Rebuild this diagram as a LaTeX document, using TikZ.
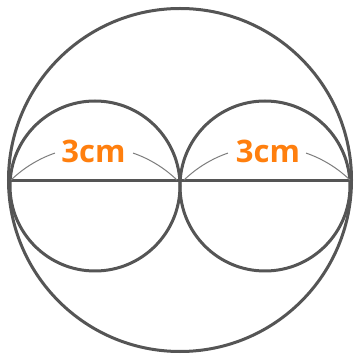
\documentclass[tikz,border=0pt]{standalone}
\usepackage{fontspec}
\setmainfont{Open Sans}
\usetikzlibrary{calc}
\definecolor{ink}{RGB}{85,85,85}
\definecolor{dimc}{RGB}{125,125,125}
\definecolor{lab}{RGB}{255,127,14}
\begin{document}
\begin{tikzpicture}[x=1pt,y=1pt,
  shape line/.style={draw=ink,line width=3pt},
  dim arc/.style={draw=dimc,line width=1pt},
  dim label/.style={text=lab,font=\fontsize{31}{31}\selectfont\bfseries,inner sep=0pt,anchor=base}]
\useasboundingbox (0,0) rectangle (354,356);
\coordinate (O) at (180,176);
\coordinate (L) at (95,170);
\coordinate (R) at (265,170);
\coordinate (A) at (10,175.3);
\coordinate (M) at (180,175.3);
\coordinate (B) at (350,175.3);
\draw[shape line] (O) circle (171.5);
\draw[shape line] (L) circle (85);
\draw[shape line] (R) circle (85);
\draw[shape line] (A) -- (M) -- (B);
% dimension arcs
\draw[dim arc] ($(94,90.1)+(134:119.4)$) arc (134:109.1:119.4);
\draw[dim arc] ($(94,90.1)+(70.9:119.4)$) arc (70.9:46:119.4);
\draw[dim arc] ($(267,90.1)+(134:119.4)$) arc (134:109.1:119.4);
\draw[dim arc] ($(267,90.1)+(70.9:119.4)$) arc (70.9:46:119.4);
\node[dim label] (t1) at (93.5,193) {3cm};
\node[dim label] (t2) at (268,193) {3cm};
\end{tikzpicture}
\end{document}
